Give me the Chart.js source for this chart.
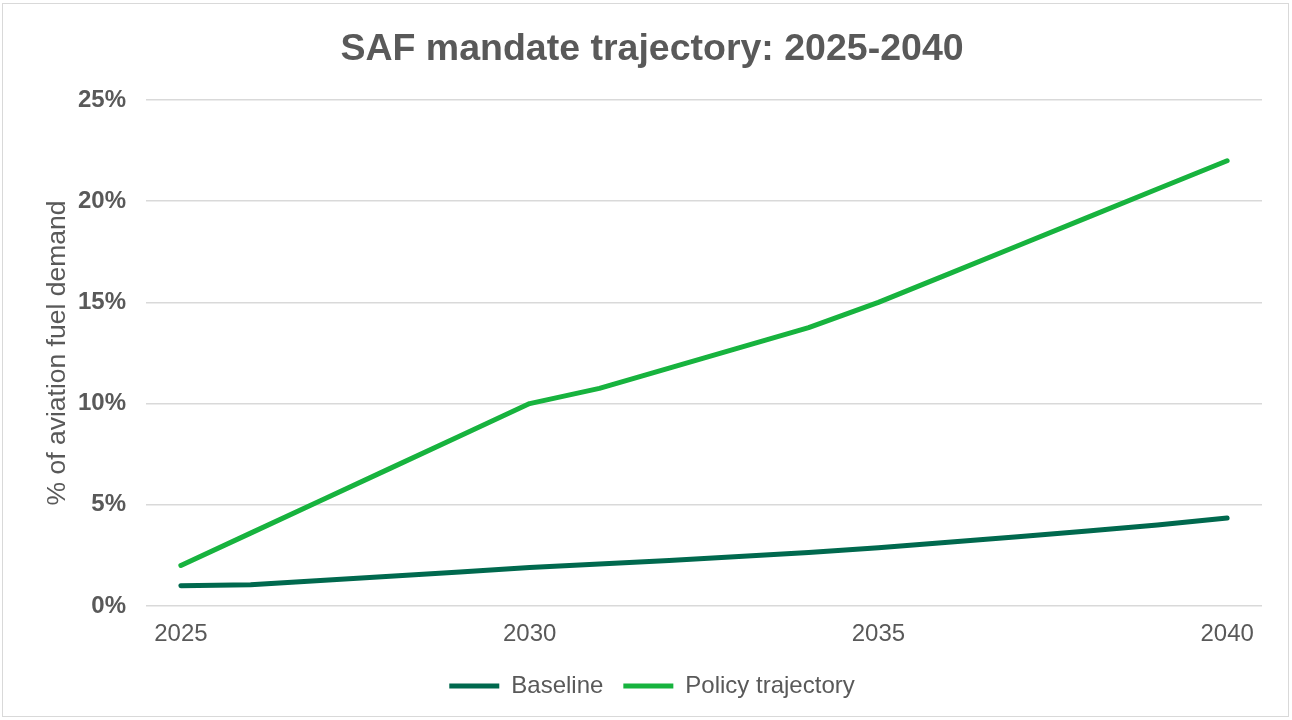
<!DOCTYPE html>
<html>
<head>
<meta charset="utf-8">
<script src="https://cdn.jsdelivr.net/npm/chart.js@4.4.1/dist/chart.umd.min.js"></script>
<style>
  html, body { margin: 0; padding: 0; background: #fff; }
  #wrap { position: relative; width: 1292px; height: 720px; }
  #frame { position: absolute; left: 2px; top: 3px; width: 1285px; height: 712px;
           border: 1.5px solid #d9d9d9; pointer-events: none; }
</style>
</head>
<body>
<div id="wrap">
  <canvas id="safChart" width="1292" height="720"></canvas>
  <div id="frame"></div>
</div>
<script>
// Năm và giá trị (% nhu cầu nhiên liệu hàng không)
const years = ['2025','2026','2027','2028','2029','2030','2031','2032',
               '2033','2034','2035','2036','2037','2038','2039','2040'];
const baseline = [1.0, 1.05, 1.26, 1.47, 1.68, 1.9, 2.07, 2.25,
                  2.44, 2.64, 2.88, 3.15, 3.42, 3.7, 4.0, 4.35];
const policy = [2.0, 3.6, 5.2, 6.8, 8.4, 10.0, 10.75, 11.75,
                12.75, 13.75, 15.0, 16.4, 17.8, 19.2, 20.6, 22.0];
const yTicks = [0, 5, 10, 15, 20, 25];

const FONT = "'Liberation Sans', Arial, sans-serif";
const GREY = '#595959';

document.addEventListener("DOMContentLoaded", function () {
    const ctx = document.getElementById('safChart').getContext('2d');
    new Chart(ctx, {
        type: 'line',
        data: {
            labels: years,
            datasets: [{
                label: 'Baseline',
                data: baseline,
                borderColor: '#00694E',
                backgroundColor: '#00694E',
                borderWidth: 5,
                pointRadius: 0,
                tension: 0,
                borderCapStyle: 'round',
                borderJoinStyle: 'round'
            }, {
                label: 'Policy trajectory',
                data: policy,
                borderColor: '#17B33E',
                backgroundColor: '#17B33E',
                borderWidth: 5,
                pointRadius: 0,
                tension: 0,
                borderCapStyle: 'round',
                borderJoinStyle: 'round'
            }]
        },
        options: {
            responsive: false,
            animation: false,
            layout: { padding: { top: 0, left: 42, right: 30, bottom: 12 } },
            plugins: {
                title: {
                    display: true,
                    text: 'SAF mandate trajectory: 2025-2040',
                    color: GREY,
                    font: { family: FONT, size: 37.5, weight: 'bold', lineHeight: 1.2 },
                    padding: { top: 27, bottom: 28 }
                },
                legend: {
                    position: 'bottom',
                    labels: {
                        color: GREY,
                        font: { family: FONT, size: 24 },
                        usePointStyle: true,
                        pointStyle: 'line',
                        pointStyleWidth: 50,
                        padding: 20
                    }
                },
                tooltip: { enabled: false }
            },
            scales: {
                x: {
                    offset: true,
                    grid: { display: false, drawTicks: false },
                    border: { display: false },
                    ticks: {
                        autoSkip: false,
                        maxRotation: 0,
                        padding: 14,
                        color: GREY,
                        font: { family: FONT, size: 24 },
                        callback: function (v, i) {
                            const y = years[i];
                            return (parseInt(y) % 5 === 0) ? y : '';
                        }
                    },
                    afterFit: function (scale) { scale.height = 48; }
                },
                y: {
                    min: yTicks[0],
                    max: yTicks[yTicks.length - 1],
                    grid: { color: '#d9d9d9', lineWidth: 1.5, drawTicks: false },
                    border: { display: false },
                    afterBuildTicks: function (scale) {
                        scale.ticks = yTicks.map(v => ({ value: v }));
                    },
                    ticks: {
                        padding: 20,
                        color: GREY,
                        font: { family: FONT, size: 24, weight: 'bold' },
                        callback: value => value + '%'
                    },
                    title: {
                        display: true,
                        text: '% of aviation fuel demand',
                        color: GREY,
                        font: { family: FONT, size: 26.5, lineHeight: 1.2 },
                        padding: 0
                    },
                    afterFit: function (scale) { scale.width = 104; }
                }
            }
        }
    });
});
</script>
</body>
</html>
